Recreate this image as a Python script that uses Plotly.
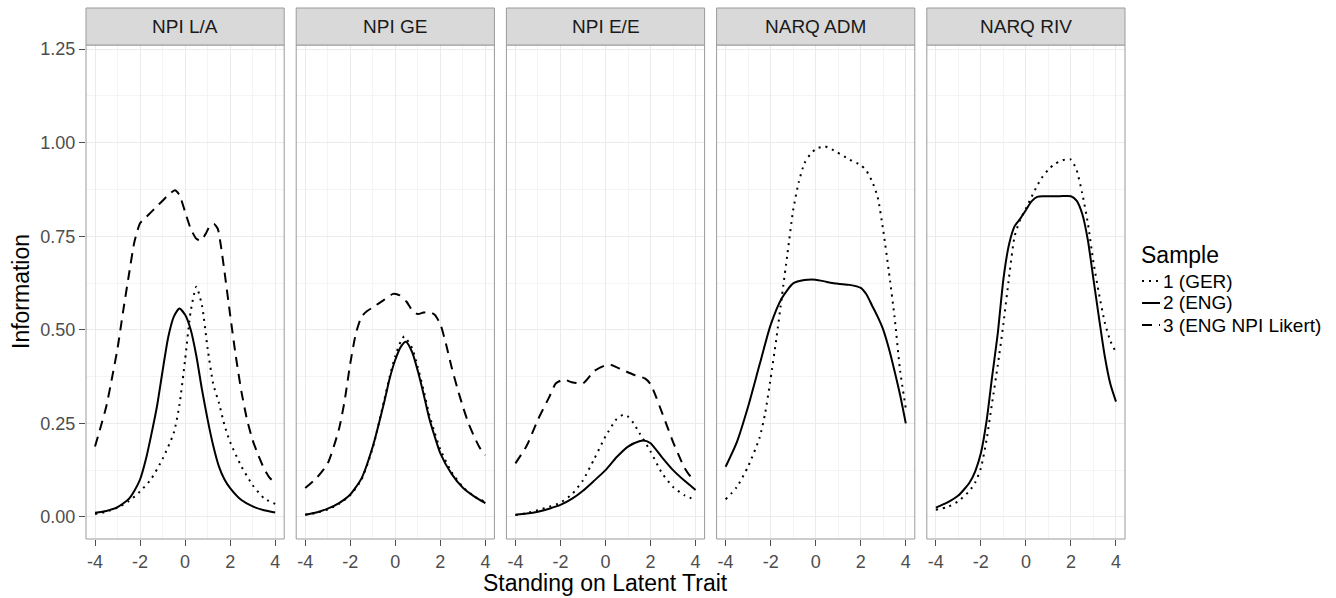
import plotly.graph_objects as go

# ---------------- data ----------------
panels = ["NPI L/A", "NPI GE", "NPI E/E", "NARQ ADM", "NARQ RIV"]
sample_names = ["1 (GER)", "2 (ENG)", "3 (ENG NPI Likert)"]
legend_title = "Sample"

# Panel 1: NPI L/A
la_ger_x = [-4, -3.5, -3, -2.5, -2, -1.5, -1, -0.5, -0.25, 0, 0.25, 0.5, 0.75, 1, 1.25, 1.5, 1.75, 2, 2.5, 3, 3.5, 4]
la_ger_y = [0.008, 0.014, 0.025, 0.042, 0.068, 0.102, 0.155, 0.225, 0.30, 0.42, 0.55, 0.615, 0.565, 0.45, 0.355, 0.305, 0.245, 0.20, 0.135, 0.085, 0.05, 0.035]
la_eng_x = [-4, -3.5, -3, -2.5, -2.25, -2, -1.75, -1.5, -1.25, -1, -0.75, -0.5, -0.25, 0, 0.25, 0.5, 0.75, 1, 1.25, 1.5, 1.75, 2, 2.5, 3, 3.5, 4]
la_eng_y = [0.011, 0.016, 0.026, 0.048, 0.07, 0.10, 0.152, 0.22, 0.295, 0.39, 0.48, 0.535, 0.557, 0.54, 0.50, 0.43, 0.34, 0.26, 0.19, 0.135, 0.10, 0.077, 0.045, 0.028, 0.018, 0.012]
la_lik_x = [-4, -3.75, -3.5, -3.25, -3, -2.75, -2.5, -2.25, -2, -1.75, -1.5, -1.25, -1, -0.75, -0.45, -0.25, 0, 0.25, 0.5, 0.7, 0.9, 1.1, 1.28, 1.45, 1.6, 1.75, 2, 2.25, 2.5, 2.75, 3, 3.25, 3.5, 3.75, 4]
la_lik_y = [0.188, 0.24, 0.295, 0.37, 0.45, 0.55, 0.645, 0.735, 0.785, 0.80, 0.815, 0.83, 0.845, 0.86, 0.873, 0.86, 0.815, 0.77, 0.743, 0.738, 0.755, 0.777, 0.783, 0.77, 0.72, 0.655, 0.54, 0.43, 0.335, 0.26, 0.205, 0.165, 0.13, 0.105, 0.09]

# Panel 2: NPI GE
ge_ger_x = [-4, -3.5, -3, -2.5, -2, -1.5, -1, -0.5, -0.25, 0, 0.25, 0.4, 0.75, 1, 1.25, 1.5, 1.75, 2, 2.5, 3, 3.5, 4]
ge_ger_y = [0.006, 0.011, 0.02, 0.035, 0.058, 0.10, 0.185, 0.31, 0.375, 0.43, 0.47, 0.482, 0.45, 0.40, 0.34, 0.275, 0.225, 0.18, 0.12, 0.08, 0.055, 0.04]
ge_eng_x = [-4, -3.5, -3, -2.5, -2, -1.5, -1, -0.5, -0.25, 0, 0.25, 0.47, 0.75, 1, 1.25, 1.5, 1.75, 2, 2.5, 3, 3.5, 4]
ge_eng_y = [0.006, 0.012, 0.022, 0.037, 0.06, 0.103, 0.188, 0.305, 0.37, 0.42, 0.455, 0.468, 0.44, 0.39, 0.33, 0.265, 0.215, 0.17, 0.115, 0.078, 0.055, 0.037]
ge_lik_x = [-4, -3.5, -3, -2.5, -2.25, -2, -1.75, -1.5, -1.25, -1, -0.5, -0.1, 0.2, 0.5, 0.8, 1.0, 1.25, 1.5, 1.75, 2, 2.25, 2.5, 2.75, 3, 3.25, 3.5, 3.75, 4]
ge_lik_y = [0.077, 0.104, 0.143, 0.235, 0.31, 0.41, 0.49, 0.535, 0.55, 0.56, 0.58, 0.596, 0.592, 0.575, 0.548, 0.542, 0.546, 0.548, 0.54, 0.515, 0.462, 0.40, 0.345, 0.295, 0.25, 0.215, 0.185, 0.165]

# Panel 3: NPI E/E
ee_ger_x = [-4, -3.5, -3, -2.5, -2, -1.5, -1, -0.5, 0, 0.5, 0.8, 1.0, 1.25, 1.5, 2, 2.5, 3, 3.5, 4]
ee_ger_y = [0.005, 0.01, 0.018, 0.027, 0.038, 0.06, 0.098, 0.155, 0.215, 0.262, 0.273, 0.268, 0.25, 0.225, 0.175, 0.118, 0.08, 0.058, 0.045]
ee_eng_x = [-4, -3.5, -3, -2.5, -2, -1.5, -1, -0.5, 0, 0.5, 1, 1.5, 1.7, 2, 2.5, 3, 3.5, 4]
ee_eng_y = [0.006, 0.009, 0.014, 0.022, 0.032, 0.048, 0.07, 0.097, 0.125, 0.16, 0.188, 0.202, 0.204, 0.197, 0.16, 0.125, 0.097, 0.072]
ee_lik_x = [-4, -3.5, -3, -2.5, -2.2, -1.85, -1.5, -1.0, -0.5, 0, 0.25, 0.75, 1.25, 1.75, 2.0, 2.25, 2.5, 2.75, 3.0, 3.25, 3.5, 3.75, 4]
ee_lik_y = [0.143, 0.19, 0.26, 0.32, 0.357, 0.367, 0.36, 0.357, 0.39, 0.405, 0.406, 0.393, 0.38, 0.37, 0.355, 0.32, 0.28, 0.24, 0.20, 0.165, 0.132, 0.11, 0.099]

# Panel 4: NARQ ADM
adm_ger_x = [-4, -3.5, -3, -2.5, -2.25, -2, -1.75, -1.5, -1.25, -1, -0.75, -0.5, -0.25, 0, 0.4, 0.9, 1.5, 2, 2.25, 2.5, 2.75, 3, 3.25, 3.5, 3.75, 4]
adm_ger_y = [0.047, 0.08, 0.135, 0.21, 0.275, 0.37, 0.475, 0.59, 0.705, 0.82, 0.895, 0.945, 0.968, 0.983, 0.99, 0.976, 0.955, 0.94, 0.925, 0.897, 0.855, 0.765, 0.655, 0.535, 0.39, 0.29]
adm_eng_x = [-4, -3.5, -3, -2.5, -2, -1.5, -1, -0.5, 0, 0.5, 1, 1.5, 2, 2.25, 2.5, 2.75, 3, 3.25, 3.5, 3.75, 4]
adm_eng_y = [0.134, 0.20, 0.295, 0.405, 0.513, 0.585, 0.624, 0.633, 0.634, 0.628, 0.623, 0.62, 0.612, 0.595, 0.565, 0.535, 0.50, 0.45, 0.39, 0.325, 0.25]

# Panel 5: NARQ RIV
riv_ger_x = [-4, -3.5, -3, -2.5, -2.25, -2, -1.75, -1.5, -1.25, -1, -0.75, -0.5, -0.25, 0, 0.25, 0.5, 0.75, 1, 1.25, 1.5, 1.75, 2, 2.25, 2.5, 2.75, 3, 3.25, 3.5, 3.75, 4]
riv_ger_y = [0.019, 0.026, 0.042, 0.07, 0.092, 0.13, 0.205, 0.305, 0.405, 0.515, 0.64, 0.75, 0.795, 0.824, 0.855, 0.885, 0.91, 0.928, 0.942, 0.95, 0.955, 0.955, 0.927, 0.865, 0.785, 0.68, 0.595, 0.52, 0.47, 0.44]
riv_eng_x = [-4, -3.5, -3, -2.5, -2.25, -2, -1.75, -1.5, -1.25, -1, -0.75, -0.5, -0.25, 0, 0.25, 0.5, 0.75, 1, 1.5, 2, 2.25, 2.5, 2.75, 3, 3.25, 3.5, 3.75, 4]
riv_eng_y = [0.025, 0.038, 0.057, 0.092, 0.122, 0.17, 0.255, 0.375, 0.49, 0.635, 0.728, 0.777, 0.797, 0.82, 0.843, 0.855, 0.857, 0.857, 0.857, 0.857, 0.845, 0.81, 0.74, 0.635, 0.53, 0.43, 0.355, 0.308]

series = [
    # (panel index, sample index, x, y)
    (0, 0, la_ger_x, la_ger_y), (0, 1, la_eng_x, la_eng_y), (0, 2, la_lik_x, la_lik_y),
    (1, 0, ge_ger_x, ge_ger_y), (1, 1, ge_eng_x, ge_eng_y), (1, 2, ge_lik_x, ge_lik_y),
    (2, 0, ee_ger_x, ee_ger_y), (2, 1, ee_eng_x, ee_eng_y), (2, 2, ee_lik_x, ee_lik_y),
    (3, 0, adm_ger_x, adm_ger_y), (3, 1, adm_eng_x, adm_eng_y),
    (4, 0, riv_ger_x, riv_ger_y), (4, 1, riv_eng_x, riv_eng_y),
]

x_ticks = [-4, -2, 0, 2, 4]
y_ticks = [0.0, 0.25, 0.5, 0.75, 1.0, 1.25]

# ---------------- style ----------------
FONT = "Liberation Sans, Arial, sans-serif"
dashes = ["2px,5px", "solid", "10px,7px"]
W, H = 1336, 598
ML, MR, MT, MB = 86, 211, 45, 59
plot_w = W - ML - MR
plot_h = H - MT - MB
gap_px = 12
panel_w = (plot_w - 4 * gap_px) / 5
strip_h = 37
border_col = "#9a9a9a"


def px_x(px):
    return (px - ML) / plot_w


def px_y(py):
    return (MT + plot_h - py) / plot_h


fig = go.Figure()
for p, s, xs, ys in series:
    axn = "" if p == 0 else str(p + 1)
    fig.add_trace(go.Scatter(
        x=xs, y=ys, mode="lines", name=sample_names[s],
        line=dict(color="black", width=2, dash=dashes[s], shape="spline", smoothing=0.6),
        xaxis="x" + axn, yaxis="y",
        legendgroup=sample_names[s], showlegend=False,
        hoverinfo="skip",
    ))

layout = dict(
    width=W, height=H,
    margin=dict(l=ML, r=MR, t=MT, b=MB, pad=0),
    paper_bgcolor="white", plot_bgcolor="white",
    font=dict(family=FONT, color="#4d4d4d", size=18),
    showlegend=False,
)

shapes = []
annotations = []
for i in range(5):
    x0 = (i * (panel_w + gap_px)) / plot_w
    x1 = x0 + panel_w / plot_w
    key = "xaxis" if i == 0 else f"xaxis{i + 1}"
    layout[key] = dict(
        domain=[x0, x1], anchor="y", range=[-4.4, 4.4],
        tickmode="array", tickvals=x_ticks, ticktext=[str(v) for v in x_ticks],
        ticks="outside", ticklen=6, tickcolor="#4d4d4d", tickwidth=1,
        showgrid=True, gridcolor="#EBEBEB", gridwidth=1,
        minor=dict(tickmode="linear", tick0=-3, dtick=2, showgrid=True, gridcolor="#F4F4F4", gridwidth=1, ticks=""),
        zeroline=False, showline=False,
        tickfont=dict(family=FONT, size=18, color="#4d4d4d"),
    )
    xr = "x domain" if i == 0 else f"x{i + 1} domain"
    shapes.append(dict(type="rect", xref=xr, yref="y domain", x0=0, x1=1, y0=0, y1=1,
                       line=dict(color=border_col, width=1), fillcolor="rgba(0,0,0,0)", layer="above"))
    shapes.append(dict(type="rect", xref=xr, yref="paper", x0=0, x1=1, y0=1, y1=1 + strip_h / plot_h,
                       line=dict(color=border_col, width=1), fillcolor="#D9D9D9", layer="above"))
    annotations.append(dict(text=panels[i], xref=xr, yref="paper", x=0.5, y=1 + strip_h / 2 / plot_h,
                            showarrow=False, xanchor="center", yanchor="middle",
                            font=dict(family=FONT, size=19, color="#1a1a1a")))

layout["yaxis"] = dict(
    domain=[0, 1], anchor="x", range=[-0.059, 1.261],
    tickmode="array", tickvals=y_ticks, ticktext=[f"{v:.2f}" for v in y_ticks],
    ticks="outside", ticklen=6, tickcolor="#4d4d4d", tickwidth=1,
    showgrid=True, gridcolor="#EBEBEB", gridwidth=1,
    minor=dict(tickmode="linear", tick0=0.125, dtick=0.25, showgrid=True, gridcolor="#F4F4F4", gridwidth=1, ticks=""),
    zeroline=False, showline=False,
    tickfont=dict(family=FONT, size=18, color="#4d4d4d"),
)

annotations.append(dict(text="Standing on Latent Trait", xref="paper", yref="paper",
                        x=0.5, y=px_y(583), showarrow=False,
                        xanchor="center", yanchor="middle",
                        font=dict(family=FONT, size=23, color="black")))
annotations.append(dict(text="Information", xref="paper", yref="paper",
                        x=px_x(21), y=px_y(292), showarrow=False,
                        xanchor="center", yanchor="middle", textangle=-90,
                        font=dict(family=FONT, size=23, color="black")))

# legend (ggplot-style: short keys)
annotations.append(dict(text=legend_title, xref="paper", yref="paper",
                        x=px_x(1139), y=px_y(255), showarrow=False,
                        xanchor="left", yanchor="middle",
                        font=dict(family=FONT, size=23, color="black")))
legend_rows = [281, 303, 325]
for s, name in enumerate(sample_names):
    yy = px_y(legend_rows[s])
    shapes.append(dict(type="line", xref="paper", yref="paper",
                       x0=px_x(1142), x1=px_x(1160), y0=yy, y1=yy,
                       line=dict(color="black", width=2, dash=dashes[s])))
    annotations.append(dict(text=name, xref="paper", yref="paper",
                            x=px_x(1161), y=yy, showarrow=False,
                            xanchor="left", yanchor="middle",
                            font=dict(family=FONT, size=19, color="black")))

layout["shapes"] = shapes
layout["annotations"] = annotations
fig.update_layout(**layout)

fig.write_html("out.html")
